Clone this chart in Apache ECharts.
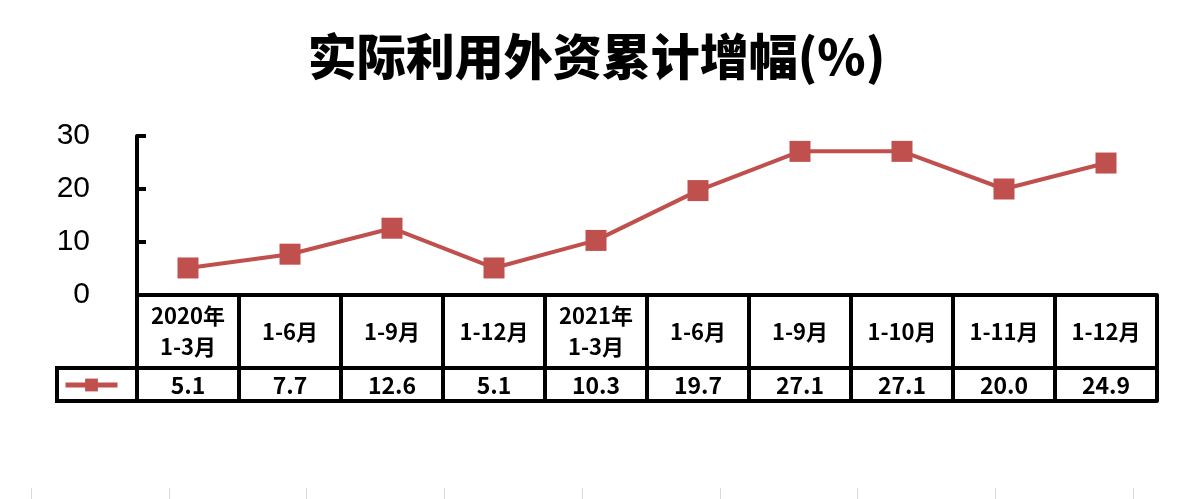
<!DOCTYPE html>
<html>
<head>
<meta charset="utf-8">
<script src="https://cdn.jsdelivr.net/npm/echarts@6/dist/echarts.min.js"></script>
<style>
html,body{margin:0;padding:0;background:#fff;}
#main{width:1193px;height:499px;}
</style>
</head>
<body>
<div id="main"></div>
<script>
var titleText = '实际利用外资累计增幅(%)';
var seriesName = '实际利用外资累计增幅';
var categories = ['2020年\n1-3月', '1-6月', '1-9月', '1-12月', '2021年\n1-3月', '1-6月', '1-9月', '1-10月', '1-11月', '1-12月'];
var values = [5.1, 7.7, 12.6, 5.1, 10.3, 19.7, 27.1, 27.1, 20.0, 24.9];
var yTicks = [0, 10, 20, 30];

var GRID_LEFT = 137, GRID_RIGHT = 36, GRID_TOP = 136, GRID_BOTTOM = 204;
var ROW1 = 73, ROW2 = 33;
var LINE_W = 4;
var RED = '#C0504D';

var chart = echarts.init(document.getElementById('main'), null, {renderer: 'canvas'});
var option = {
  animation: false,
  backgroundColor: '#ffffff',
  title: {
    text: titleText,
    left: 'center',
    top: 32,
    padding: 0,
    textStyle: {fontFamily: 'Noto Sans CJK SC', fontWeight: 900, fontSize: 49, color: '#000'}
  },
  legend: {
    data: [seriesName],
    left: 63,
    top: 377,
    padding: 0,
    itemWidth: 52,
    itemHeight: 16,
    lineStyle: {width: 5},
    formatter: function(){ return ''; },
    textStyle: {fontSize: 1}
  },
  grid: [
    {left: GRID_LEFT, right: GRID_RIGHT, top: GRID_TOP, bottom: GRID_BOTTOM, containLabel: false},
    {left: 31, right: 60, top: 488, bottom: 0, containLabel: false}
  ],
  xAxis: [
    {
      type: 'category', gridIndex: 0, position: 'bottom', data: categories, boundaryGap: true,
      axisLine: {show: true, lineStyle: {color: '#000', width: LINE_W}},
      axisTick: {show: true, inside: false, length: ROW1 + ROW2, interval: 0, lineStyle: {color: '#000', width: LINE_W}},
      axisLabel: {show: true, interval: 0, margin: ROW1 / 2, verticalAlign: 'middle', color: '#000',
        fontFamily: 'Noto Sans CJK SC', fontWeight: 'bold', fontSize: 22, lineHeight: 31},
      splitLine: {show: false}
    },
    {
      type: 'category', gridIndex: 0, position: 'bottom', offset: ROW1, data: categories, boundaryGap: true,
      axisLine: {show: true, lineStyle: {color: '#000', width: LINE_W}},
      axisTick: {show: false},
      axisLabel: {show: true, interval: 0, margin: ROW2 / 2 + 1, verticalAlign: 'middle', color: '#000',
        fontFamily: 'Noto Sans CJK SC', fontWeight: 'bold', fontSize: 23,
        formatter: function(v, i){ return values[i].toFixed(1); }},
      splitLine: {show: false}
    },
    {
      type: 'category', gridIndex: 0, position: 'bottom', offset: ROW1 + ROW2, data: categories, boundaryGap: true,
      axisLine: {show: true, lineStyle: {color: '#000', width: LINE_W}},
      axisTick: {show: false}, axisLabel: {show: false}, splitLine: {show: false}
    },
    {
      type: 'value', gridIndex: 1, min: 0, max: 8, interval: 1, position: 'bottom',
      axisLine: {show: false},
      axisTick: {show: true, inside: true, length: 11, lineStyle: {color: '#d9d9d9', width: 1}},
      axisLabel: {show: false}, splitLine: {show: false}
    }
  ],
  yAxis: [
    {
      type: 'value', gridIndex: 0, min: yTicks[0], max: yTicks[yTicks.length - 1], interval: 10,
      axisLine: {show: true, lineStyle: {color: '#000', width: LINE_W}},
      axisTick: {show: true, inside: true, length: 9, lineStyle: {color: '#000', width: LINE_W}},
      axisLabel: {show: true, margin: 47, color: '#000', fontFamily: 'Liberation Sans', fontSize: 30},
      splitLine: {show: false}
    },
    {
      type: 'value', gridIndex: 1, show: false
    }
  ],
  series: [
    {
      name: seriesName,
      type: 'line',
      xAxisIndex: 0, yAxisIndex: 0,
      data: values,
      symbol: 'rect',
      symbolSize: 21,
      showSymbol: true,
      itemStyle: {color: RED},
      lineStyle: {color: RED, width: 4},
      label: {show: false}
    }
  ]
};
chart.setOption(option);

// legend cell frame, aligned to the grid's left edge and the table rows
var zeroY = chart.convertToPixel({yAxisIndex: 0}, 0);
chart.setOption({
  graphic: [{
    type: 'rect',
    shape: {x: 57, y: zeroY + ROW1, width: GRID_LEFT - 57, height: ROW2},
    style: {fill: null, stroke: '#000', lineWidth: LINE_W},
    z: 10
  }]
});
</script>
</body>
</html>
